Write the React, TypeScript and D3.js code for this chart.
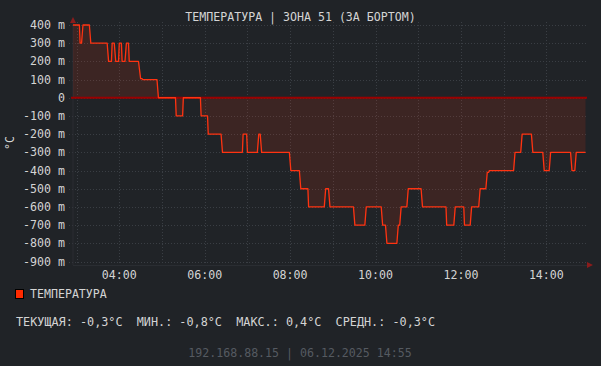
import React from "react";
import * as d3 from "d3";

const TITLE = "ТЕМПЕРАТУРА | ЗОНА 51 (ЗА БОРТОМ)";
const Y_LABEL = "°C";
const SERIES_NAME = "ТЕМПЕРАТУРА";
const STATS = "ТЕКУЩАЯ: -0,3°C  МИН.: -0,8°C  МАКС.: 0,4°C  СРЕДН.: -0,3°C";
const FOOTER = "192.168.88.15 | 06.12.2025 14:55";

const TIME_START = "02:55";
const TIME_END = "14:55";
const X_TICK_HOURS = [4, 6, 8, 10, 12, 14];
const X_GRID_HOURS = [3, 4, 5, 6, 7, 8, 9, 10, 11, 12, 13, 14];
const Y_TICKS = [400, 300, 200, 100, 0, -100, -200, -300, -400, -500, -600, -700, -800, -900];

// step segments: start time, end time, value (milli °C)
const segStart = [
  "02:55", "03:05", "03:09", "03:20", "03:45", "03:50", "03:55", "04:00", "04:04", "04:10",
  "04:14", "04:30", "04:33", "04:55", "05:20", "05:30", "05:55", "06:05", "06:25", "06:54",
  "07:00", "07:16", "07:20", "08:01", "08:15", "08:26", "08:50", "08:56", "09:31", "09:47",
  "10:10", "10:16", "10:32", "10:36", "10:46", "11:06", "11:40", "11:52", "12:05", "12:15",
  "12:27", "12:37", "12:40", "13:16", "13:26", "13:41", "13:57", "14:06", "14:36", "14:42",
];
const segEnd = [
  "03:04", "03:07", "03:18", "03:43", "03:49", "03:53", "03:59", "04:03", "04:08", "04:13",
  "04:27", "04:32", "04:53", "05:19", "05:29", "05:54", "06:04", "06:23", "06:53", "06:59",
  "07:14", "07:18", "07:59", "08:13", "08:25", "08:48", "08:54", "09:29", "09:45", "10:08",
  "10:14", "10:30", "10:34", "10:44", "11:04", "11:39", "11:50", "12:04", "12:13", "12:25",
  "12:35", "12:39", "13:14", "13:24", "13:39", "13:55", "14:04", "14:34", "14:40", "14:55",
];
const segValue = [
  400, 300, 400, 300, 200, 300, 200, 300, 200, 300,
  200, 105, 100, 0, -100, 0, -100, -200, -300, -200,
  -300, -200, -300, -400, -500, -600, -500, -600, -700, -600,
  -700, -800, -700, -600, -500, -600, -700, -600, -700, -600,
  -500, -410, -400, -300, -200, -300, -400, -300, -400, -300,
];

const toMin = (s: string) => {
  const [h, m] = s.split(":").map(Number);
  return h * 60 + m;
};

const FONT = "'DejaVu Sans Mono', monospace";
const BG = "#202327";
const TXT = "#d4d4d4";
const GRID = "#3a3e44";
const LINE = "#ff3311";

export default function App() {
  const W = 601, H = 366;
  const x = d3.scaleLinear().domain([toMin(TIME_START), toMin(TIME_END)]).range([73, 585.5]);
  const y = d3.scaleLinear().domain([-900, 400]).range([261.5, 25]);

  const pts: [number, number][] = [];
  segStart.forEach((s, i) => {
    pts.push([toMin(s), segValue[i]]);
    pts.push([toMin(segEnd[i]), segValue[i]]);
  });

  const line = d3.line<[number, number]>().x(d => x(d[0])).y(d => y(d[1]));
  const area = d3.area<[number, number]>().x(d => x(d[0])).y0(y(0)).y1(d => y(d[1]));

  const fmtY = (v: number) => (v === 0 ? "0" : `${v} m`);
  const fmtX = (h: number) => `${String(h).padStart(2, "0")}:00`;

  const axisY = 265;
  const x0 = x.range()[0];

  return (
    <svg width={W} height={H} style={{ position: "fixed", left: 0, top: 0, background: BG }}
      fontFamily={FONT}>
      <rect x={0} y={0} width={W} height={H} fill={BG} />
      <text x={300.5} y={21} textAnchor="middle" fill={TXT} fontSize={11.6}>{TITLE}</text>

      {/* grid */}
      {Y_TICKS.map(v => (
        <line key={"gy" + v} x1={69} x2={588} y1={Math.round(y(v)) + 0.5} y2={Math.round(y(v)) + 0.5}
          stroke={GRID} strokeDasharray="1 2" />
      ))}
      {X_GRID_HOURS.map(h => (
        <line key={"gx" + h} x1={Math.round(x(h * 60)) + 0.5} x2={Math.round(x(h * 60)) + 0.5}
          y1={22} y2={268} stroke={GRID} strokeDasharray="1 2" />
      ))}

      {/* axes */}
      <line x1={x0} x2={x0} y1={22} y2={axisY} stroke="#2a2d32" />
      <line x1={x0} x2={588} y1={axisY + 0.5} y2={axisY + 0.5} stroke="#2a2d32" />
      <path d={`M${x0 - 3},${23} L${x0 + 3},${23} L${x0},${17} Z`} fill="#8a1c1c" />
      <path d={`M${587},${axisY - 3} L${587},${axisY + 3} L${593},${axisY} Z`} fill="#8a1c1c" />

      {/* area + line */}
      <path d={area(pts) || ""} fill={LINE} fillOpacity={0.13} />
      <line x1={71} x2={587} y1={y(0)} y2={y(0)} stroke="#9a0000" strokeWidth={2} />
      <path d={line(pts) || ""} fill="none" stroke={LINE} strokeWidth={1.3} strokeLinejoin="round" />

      {/* y ticks */}
      {Y_TICKS.map(v => (
        <text key={"ty" + v} x={65} y={y(v) + 4} textAnchor="end" fill={TXT} fontSize={11.6}>{fmtY(v)}</text>
      ))}
      <text transform={`translate(14,${143}) rotate(-90)`} textAnchor="middle" fill={TXT} fontSize={11.6}>{Y_LABEL}</text>

      {/* x ticks */}
      {X_TICK_HOURS.map(h => (
        <text key={"tx" + h} x={x(h * 60)} y={279} textAnchor="middle" fill={TXT} fontSize={11.6}>{fmtX(h)}</text>
      ))}

      {/* legend */}
      <rect x={15.5} y={289.5} width={8} height={9} fill="#ff2a00" stroke="#000" />
      <text x={30} y={298} fill={TXT} fontSize={11.6}>{SERIES_NAME}</text>
      <text x={16} y={326} fill={TXT} fontSize={11.8} xmlSpace="preserve" style={{ whiteSpace: "pre" }}>{STATS}</text>
      <text x={300} y={357} textAnchor="middle" fill="#555a61" fontSize={11.6}>{FOOTER}</text>
    </svg>
  );
}
